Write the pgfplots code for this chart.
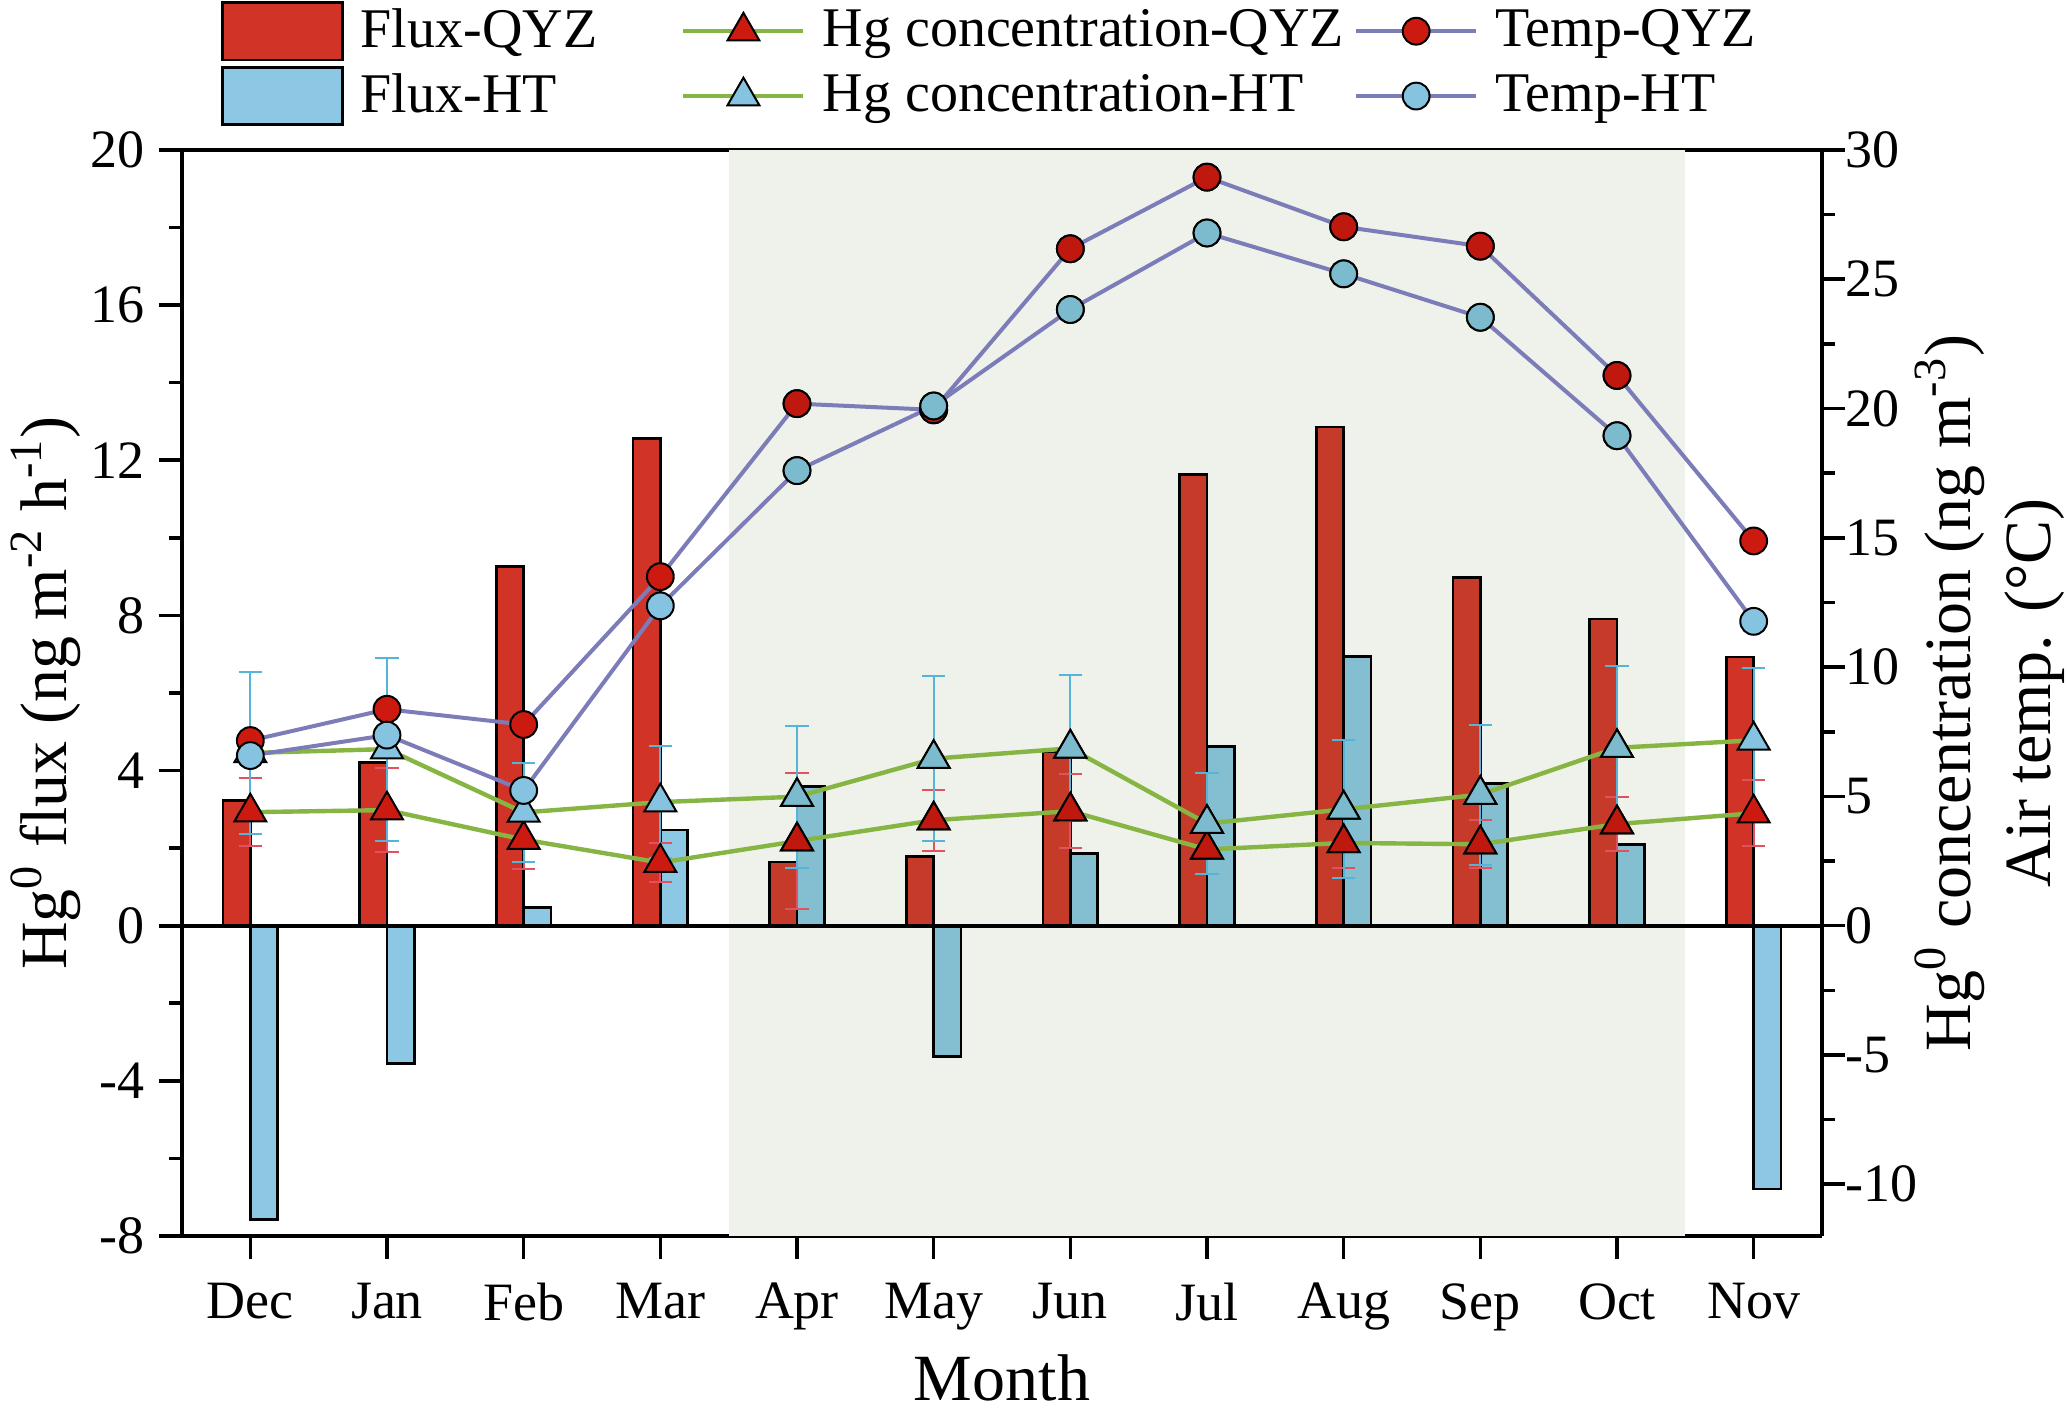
\documentclass[border=0pt]{standalone}
\usepackage{pgfplots}
\pgfplotsset{compat=1.18}
\usepackage{pgfplotstable}
\usepackage{fontspec}
\setmainfont{Liberation Serif}
\definecolor{qyzbar}{HTML}{D13427}
\definecolor{htbar}{HTML}{8CC8E4}
\definecolor{qyzmark}{HTML}{CC1A10}
\definecolor{htmark}{HTML}{85C3E0}
\definecolor{qyzbarS}{HTML}{C53A28}
\definecolor{htbarS}{HTML}{84BFD1}
\definecolor{qyzmarkS}{HTML}{BF190F}
\definecolor{htmarkS}{HTML}{7CBACD}
\definecolor{hgline}{HTML}{86B543}
\definecolor{tline}{HTML}{7C7CB9}
\definecolor{shadecol}{HTML}{EFF2EB}
\definecolor{qyzerr}{HTML}{E05262}
\definecolor{hterr}{HTML}{55B5D8}

% flux (ng m-2 h-1), left axis
\pgfplotstableread{
x  fq     fh
0  3.22  -7.58
1  4.20  -3.55
2  9.26   0.46
3  12.57  2.47
4  1.64   3.59
5  1.79  -3.37
6  4.48   1.86
7  11.63  4.62
8  12.86  6.94
9  8.97   3.66
10 7.91   2.09
11 6.93  -6.79
}\flux
% Hg0 concentration (ng m-3), right axis
\pgfplotstableread{
x  cq    eq    ch    eh
0  4.39  1.32  6.68  3.14
1  4.47  1.62  6.83  3.54
2  3.33  1.13  4.38  1.90
3  2.44  0.76  4.78  2.17
4  3.27  2.64  4.99  2.74
5  4.08  1.18  6.46  3.20
6  4.43  1.43  6.86  2.83
7  2.95  0.95  3.95  1.94
8  3.20  0.95  4.50  2.67
9  3.15  0.93  5.07  2.71
10 3.93  1.03  6.88  3.17
11 4.35  1.28  7.17  2.78
}\conc
% air temperature (C), right axis
\pgfplotstableread{
x  tq     th
0  7.16   6.58
1  8.37   7.37
2  7.78   5.23
3  13.50  12.37
4  20.19  17.60
5  19.95  20.10
6  26.18  23.83
7  28.95  26.79
8  27.03  25.21
9  26.28  23.53
10 21.28  18.95
11 14.88  11.77
}\temp

\pgfplotsset{
  common/.style={
    scale only axis, width=410pt, height=271.5pt,
    xmin=-0.5, xmax=11.5,
    tick align=outside,
    major tick length=5.8pt, minor tick length=3.2pt,
    axis line style={line width=1pt},
    every tick/.style={black, line width=0.9pt},
    tick label style={font=\fontsize{13.5}{15}\selectfont},
    label style={font=\fontsize{16.5}{20}\selectfont},
    /pgf/number format/assume math mode=true,
  },
  barleg/.style={legend image code/.code={\draw[fill=#1, draw=black, line width=0.7pt] (0pt,-7.2pt) rectangle (30pt,7.2pt);}},
  lineleg/.style={legend image code/.code={\draw[mark repeat=2, mark phase=2, ##1] plot coordinates {(0pt,0pt) (15pt,0pt) (30pt,0pt)};}},
  inshade/.style={forget plot, restrict x to domain=3.5:10.5},
}

\begin{document}
\begin{tikzpicture}
\begin{axis}[common, name=ax,
  axis y line*=left,
  ymin=-8, ymax=20,
  ytick={-8,-4,...,20}, minor y tick num=1,
  xtick={0,...,11},
  xticklabels={Dec,Jan,Feb,Mar,Apr,May,Jun,Jul,Aug,Sep,Oct,Nov},
  xtick pos=bottom,
  xticklabel style={yshift=-2.5pt},
  xlabel={Month},
  xlabel style={at={(axis description cs:0.5,-0.131)}, anchor=center},
  ylabel={Hg\textsuperscript{0} flux (ng m\textsuperscript{-2} h\textsuperscript{-1})},
  ylabel style={at={(axis description cs:-0.083,0.5)}, anchor=center},
  legend columns=3,
  legend cell align=left,
  legend style={draw=none, fill=none, inner sep=0pt, row sep=1pt,
    at={(axis description cs:0,1)}, anchor=north west, xshift=9.5pt, yshift=37.5pt,
    font=\fontsize{14}{16}\selectfont,
    nodes={inner sep=2pt},
    /tikz/column 1/.style={column sep=2.3pt},
    /tikz/column 2/.style={column sep=19pt},
    /tikz/column 3/.style={column sep=2.3pt},
    /tikz/column 4/.style={column sep=0.6pt},
    /tikz/column 5/.style={column sep=2.3pt}},
]
\addlegendimage{barleg=qyzbar}
\addlegendentry{Flux-QYZ}
\addlegendimage{lineleg, hgline, line width=1.1pt, mark=triangle*, mark size=4.6pt, mark options={fill=qyzmark, draw=black, line width=0.5pt}}
\addlegendentry{Hg concentration-QYZ}
\addlegendimage{lineleg, tline, line width=1pt, mark=*, mark size=3.35pt, mark options={fill=qyzmark, draw=black, line width=0.5pt}}
\addlegendentry{Temp-QYZ}
\addlegendimage{barleg=htbar}
\addlegendentry{Flux-HT}
\addlegendimage{lineleg, hgline, line width=1.1pt, mark=triangle*, mark size=4.6pt, mark options={fill=htmark, draw=black, line width=0.5pt}}
\addlegendentry{Hg concentration-HT}
\addlegendimage{lineleg, tline, line width=1pt, mark=*, mark size=3.35pt, mark options={fill=htmark, draw=black, line width=0.5pt}}
\addlegendentry{Temp-HT}

\fill[fill=shadecol] (axis cs:3.5,-8) rectangle (axis cs:10.5,20);
\addplot[forget plot, ybar, bar width=0.2, bar shift=-0.1, fill=qyzbar, draw=black, line width=0.7pt] table[x=x, y=fq] {\flux};
\addplot[forget plot, ybar, bar width=0.2, bar shift=0.1, fill=htbar, draw=black, line width=0.7pt] table[x=x, y=fh] {\flux};
\addplot[inshade, ybar, bar width=0.2, bar shift=-0.1, fill=qyzbarS, draw=black, line width=0.7pt] table[x=x, y=fq] {\flux};
\addplot[inshade, ybar, bar width=0.2, bar shift=0.1, fill=htbarS, draw=black, line width=0.7pt] table[x=x, y=fh] {\flux};
\addplot[forget plot, black, line width=1pt] coordinates {(-0.5,0) (11.5,0)};
\end{axis}

\begin{axis}[common,
  axis y line*=right, axis x line=none,
  ymin=-12, ymax=30,
  ytick={-10,-5,...,30}, minor y tick num=1,
  yticklabel style={xshift=-3.5pt},
  ylabel={Hg\textsuperscript{0} concentration (ng m\textsuperscript{-3})\\Air temp. (°C)},
  ylabel style={at={(axis description cs:1.1024,0.5)}, anchor=center, align=center},
]
\addplot[hgline, line width=1.1pt, mark=triangle*, mark size=4.6pt,
  mark options={fill=qyzmark, draw=black, line width=0.5pt},
  error bars/.cd, y dir=both, y explicit,
  error bar style={qyzerr, line width=0.5pt},
  error mark options={qyzerr, rotate=90, mark size=2.9pt, line width=0.5pt}]
  table[x=x, y=cq, y error=eq] {\conc};
\addplot[inshade, only marks, mark=triangle*, mark size=4.6pt,
  mark options={fill=qyzmarkS, draw=black, line width=0.5pt}]
  table[x=x, y=cq] {\conc};
\addplot[hgline, line width=1.1pt, mark=triangle*, mark size=4.6pt,
  mark options={fill=htmark, draw=black, line width=0.5pt},
  error bars/.cd, y dir=both, y explicit,
  error bar style={hterr, line width=0.5pt},
  error mark options={hterr, rotate=90, mark size=2.9pt, line width=0.5pt}]
  table[x=x, y=ch, y error=eh] {\conc};
\addplot[inshade, only marks, mark=triangle*, mark size=4.6pt,
  mark options={fill=htmarkS, draw=black, line width=0.5pt}]
  table[x=x, y=ch] {\conc};
\addplot[tline, line width=1pt, mark=*, mark size=3.35pt,
  mark options={fill=qyzmark, draw=black, line width=0.5pt}]
  table[x=x, y=tq] {\temp};
\addplot[inshade, only marks, mark=*, mark size=3.35pt,
  mark options={fill=qyzmarkS, draw=black, line width=0.5pt}]
  table[x=x, y=tq] {\temp};
\addplot[tline, line width=1pt, mark=*, mark size=3.35pt,
  mark options={fill=htmark, draw=black, line width=0.5pt}]
  table[x=x, y=th] {\temp};
\addplot[inshade, only marks, mark=*, mark size=3.35pt,
  mark options={fill=htmarkS, draw=black, line width=0.5pt}]
  table[x=x, y=th] {\temp};
\end{axis}
\pgfresetboundingbox
\path ([shift={(-45.5pt,-43.5pt)}]ax.south west) rectangle ([shift={(61.25pt,37.5pt)}]ax.north east);
\end{tikzpicture}
\end{document}
